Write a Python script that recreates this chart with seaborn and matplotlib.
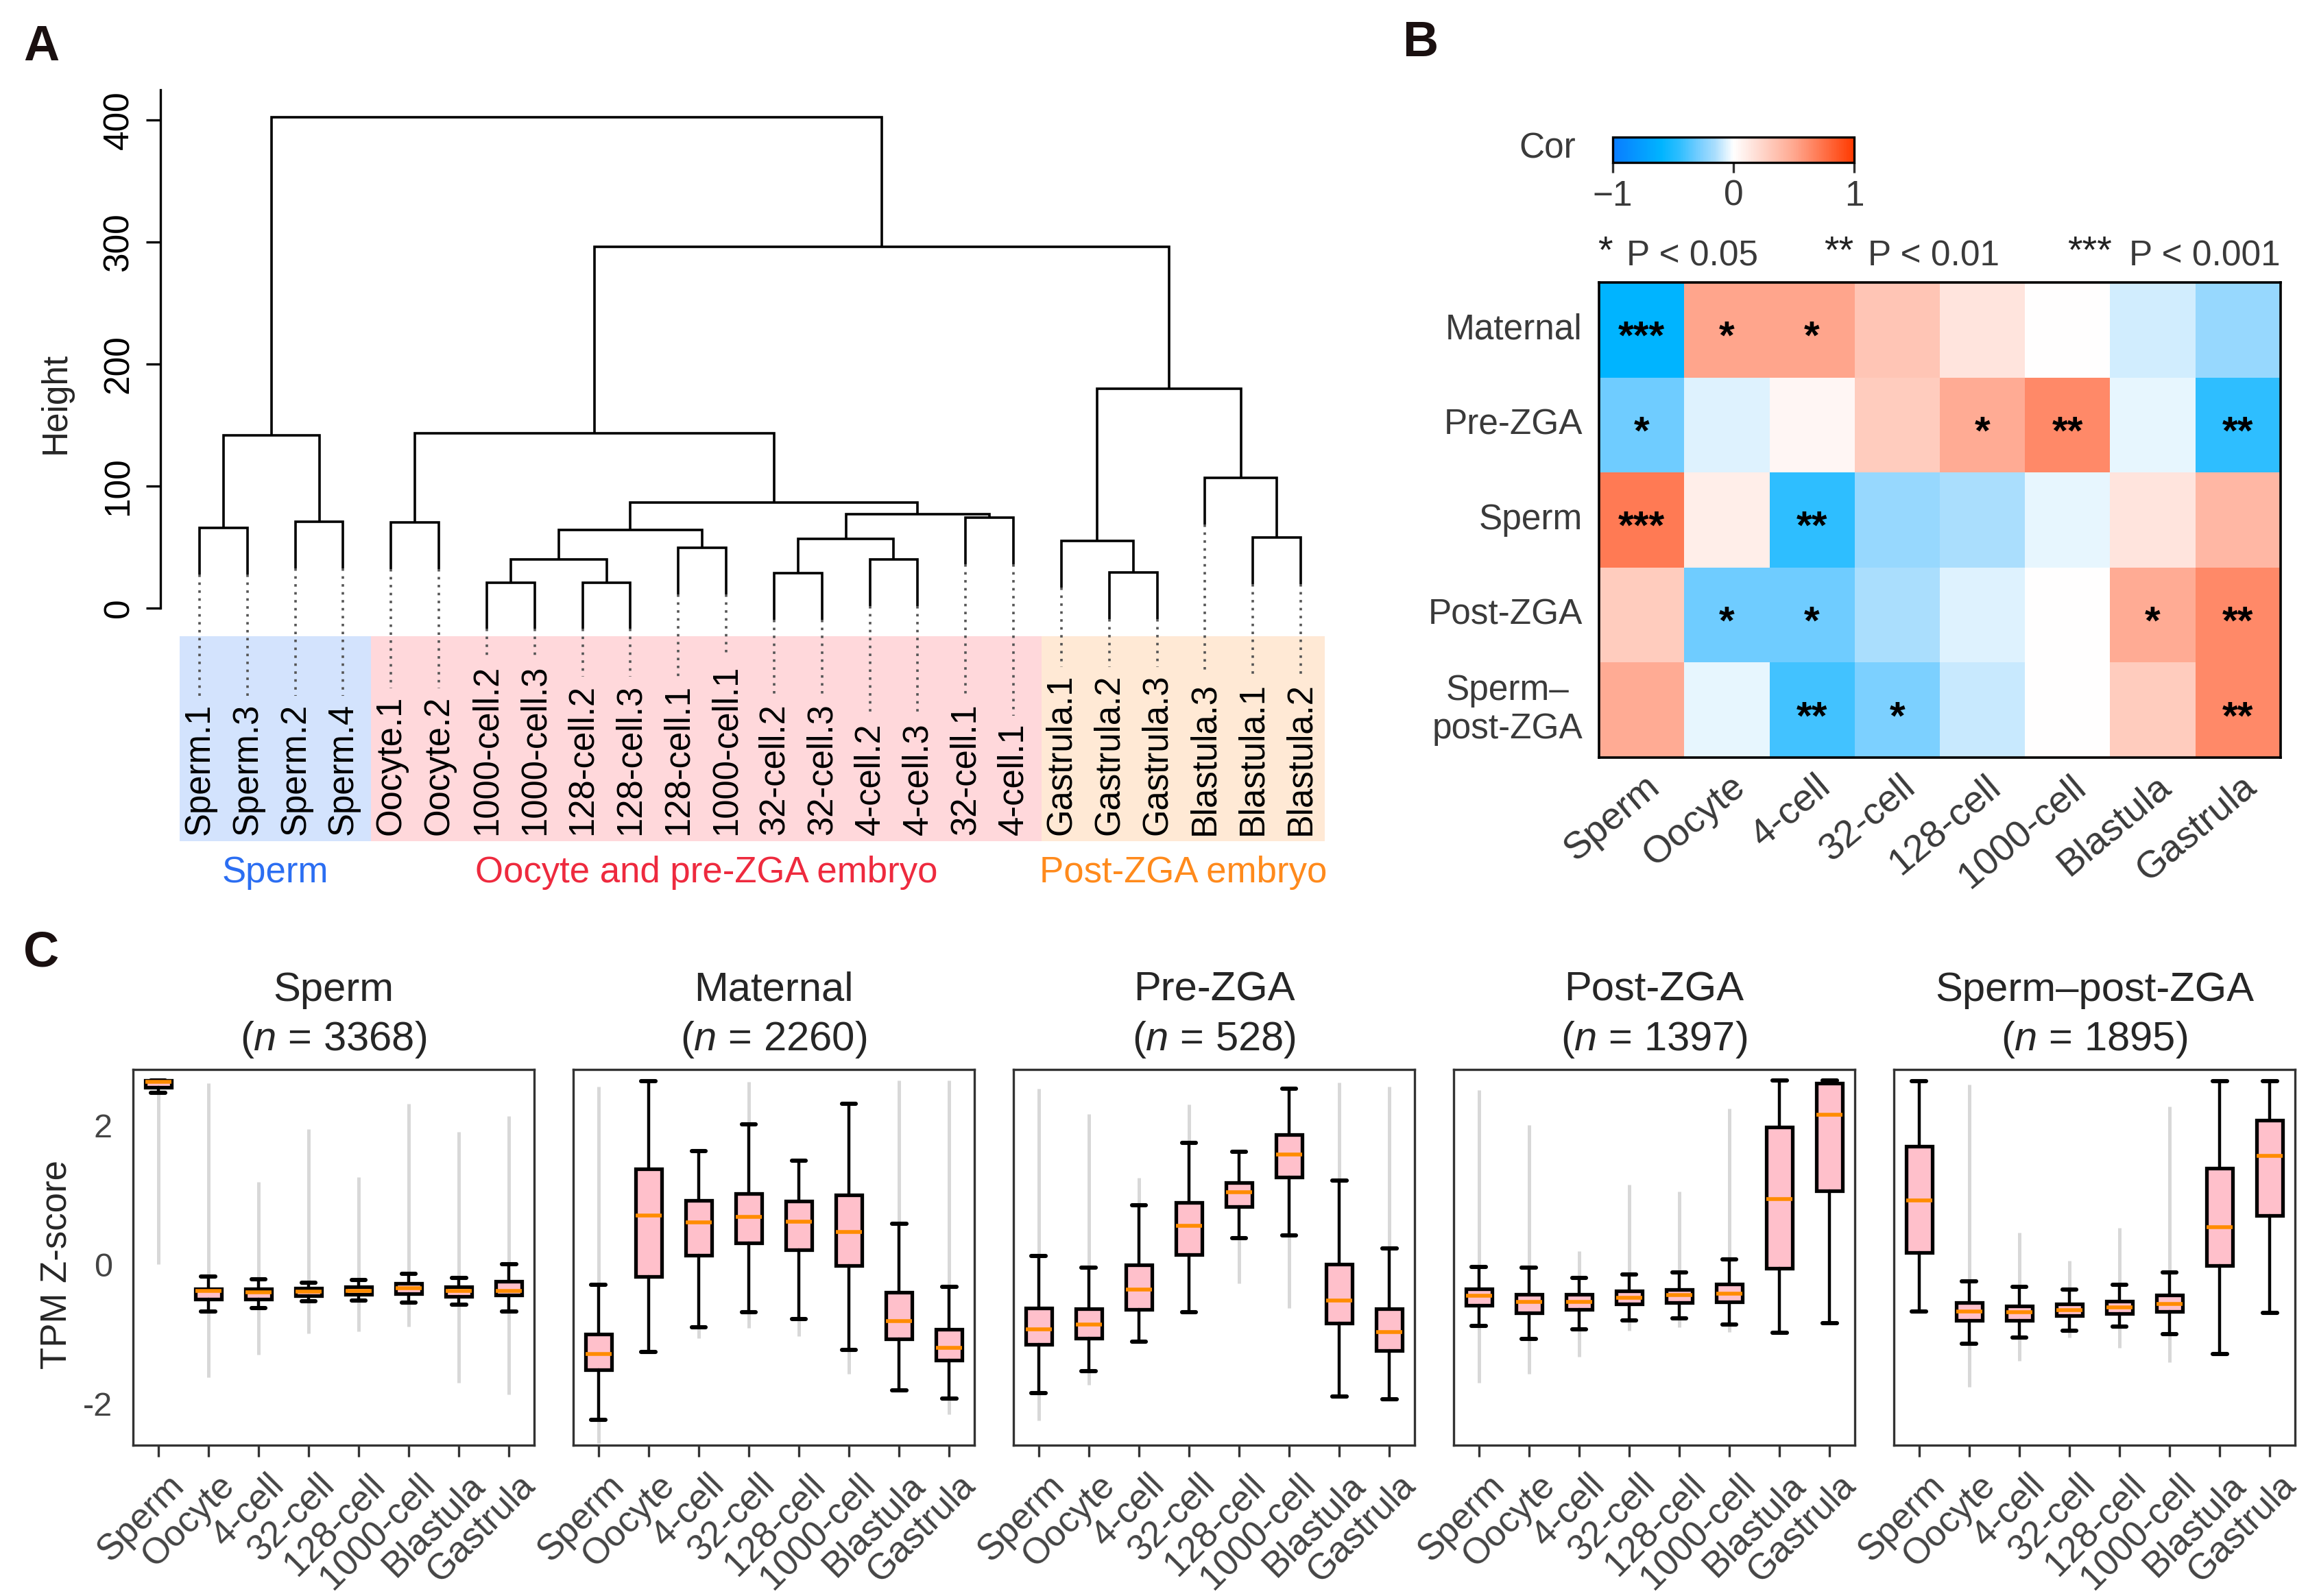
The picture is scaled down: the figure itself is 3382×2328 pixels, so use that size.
import numpy as np
import pandas as pd
import matplotlib
matplotlib.use("Agg")
import matplotlib.pyplot as plt
import seaborn as sns
from matplotlib.colors import LinearSegmentedColormap
from matplotlib.patches import Rectangle
from matplotlib.transforms import ScaledTranslation, blended_transform_factory

nan = np.nan

# ---------------- Panel A data (hierarchical clustering) ----------------
leaf_labels = ['Sperm.1', 'Sperm.3', 'Sperm.2', 'Sperm.4', 'Oocyte.1', 'Oocyte.2',
               '1000-cell.2', '1000-cell.3', '128-cell.2', '128-cell.3', '128-cell.1',
               '1000-cell.1', '32-cell.2', '32-cell.3', '4-cell.2', '4-cell.3',
               '32-cell.1', '4-cell.1', 'Gastrula.1', 'Gastrula.2', 'Gastrula.3',
               'Blastula.3', 'Blastula.1', 'Blastula.2']
merge_left = ['Sperm.1', 'Sperm.2', 'm1', 'Oocyte.1', '1000-cell.2', '128-cell.2', 'm5',
              '128-cell.1', 'm7', '32-cell.2', '4-cell.2', 'm10', '32-cell.1', 'm12',
              'm9', 'm4', 'Gastrula.2', 'Gastrula.1', 'Blastula.1', 'Blastula.3',
              'm18', 'm16', 'm3']
merge_right = ['Sperm.3', 'Sperm.4', 'm2', 'Oocyte.2', '1000-cell.3', '128-cell.3', 'm6',
               '1000-cell.1', 'm8', '32-cell.3', '4-cell.3', 'm11', '4-cell.1', 'm13',
               'm14', 'm15', 'Gastrula.3', 'm17', 'Blastula.2', 'm19',
               'm20', 'm21', 'm22']
merge_height = [65.6, 70.8, 141.7, 70.4, 21.0, 21.0, 40.0, 49.6, 64.2, 28.8, 40.0, 56.7,
                74.0, 77.0, 86.4, 143.0, 29.3, 54.8, 58.0, 106.7, 180.0, 296.0, 402.0]
group_names = ['Sperm', 'Oocyte and pre-ZGA embryo', 'Post-ZGA embryo']
group_sizes = [4, 14, 6]
group_fill = ['#D3E3FD', '#FFD8DB', '#FFE9D5']
group_text = ['#2B6EF2', '#EE2A3E', '#FF8A1C']
height_ticks = [0, 100, 200, 300, 400]

# ---------------- Panel B data (correlation heatmap) ----------------
b_rows = ['Maternal', 'Pre-ZGA', 'Sperm', 'Post-ZGA', 'Sperm\u2013\npost-ZGA']
b_cols = ['Sperm', 'Oocyte', '4-cell', '32-cell', '128-cell', '1000-cell', 'Blastula', 'Gastrula']
cor_maternal = [-0.60, 0.51, 0.51, 0.33, 0.15, 0.00, -0.08, -0.20]
cor_prezga = [-0.30, -0.06, 0.05, 0.29, 0.48, 0.64, -0.04, -0.45]
cor_sperm = [0.71, 0.10, -0.45, -0.20, -0.15, -0.04, 0.15, 0.41]
cor_postzga = [0.29, -0.30, -0.30, -0.15, -0.06, 0.00, 0.48, 0.64]
cor_spermpost = [0.48, -0.04, -0.40, -0.27, -0.10, 0.00, 0.29, 0.64]
sig_maternal = ['***', '*', '*', '', '', '', '', '']
sig_prezga = ['*', '', '', '', '*', '**', '', '**']
sig_sperm = ['***', '', '**', '', '', '', '', '']
sig_postzga = ['', '*', '*', '', '', '', '*', '**']
sig_spermpost = ['', '', '**', '*', '', '', '', '**']

# ---------------- Panel C data (box plot statistics) ----------------
stages = ['Sperm', 'Oocyte', '4-cell', '32-cell', '128-cell', '1000-cell', 'Blastula', 'Gastrula']
c_titles = ['Sperm', 'Maternal', 'Pre-ZGA', 'Post-ZGA', 'Sperm\u2013post-ZGA']
c_counts = [3368, 2260, 528, 1397, 1895]

sperm_med = [2.62, -0.385, -0.40, -0.395, -0.38, -0.345, -0.38, -0.38]
sperm_q1 = [2.54, -0.505, -0.50, -0.45, -0.43, -0.418, -0.46, -0.443]
sperm_q3 = [2.645, -0.35, -0.355, -0.343, -0.325, -0.275, -0.325, -0.244]
sperm_wlo = [2.465, -0.678, -0.634, -0.53, -0.517, -0.548, -0.58, -0.68]
sperm_whi = [2.646, -0.175, -0.22, -0.263, -0.225, -0.133, -0.195, 0.0]
sperm_olo = [0.0, -1.62, -1.30, -0.99, -0.96, -0.895, -1.70, -1.87]
sperm_ohi = [nan, 2.60, 1.18, 1.94, 1.25, 2.31, 1.90, 2.13]

maternal_med = [-1.286, 0.704, 0.599, 0.68, 0.617, 0.468, -0.82, -1.199]
maternal_q1 = [-1.515, -0.18, 0.134, 0.307, 0.208, -0.015, -1.069, -1.379]
maternal_q3 = [-1.007, 1.368, 0.915, 1.014, 0.908, 0.995, -0.40, -0.938]
maternal_wlo = [-2.235, -1.255, -0.901, -0.691, -0.79, -1.23, -1.813, -1.931]
maternal_whi = [-0.29, 2.633, 1.628, 2.012, 1.492, 2.31, 0.58, -0.325]
maternal_olo = [-2.57, nan, -1.063, -0.914, -1.038, -1.578, nan, -2.154]
maternal_ohi = [2.557, nan, nan, 2.62, nan, nan, 2.64, 2.64]

prezga_med = [-0.932, -0.865, -0.368, 0.55, 1.033, 1.58, -0.52, -0.97]
prezga_q1 = [-1.149, -1.062, -0.653, 0.14, 0.828, 1.25, -0.846, -1.236]
prezga_q3 = [-0.628, -0.641, -0.009, 0.89, 1.176, 1.864, 0.0, -0.64]
prezga_wlo = [-1.85, -1.535, -1.112, -0.69, 0.376, 0.413, -1.90, -1.94]
prezga_whi = [0.115, -0.046, 0.853, 1.75, 1.622, 2.52, 1.207, 0.233]
prezga_olo = [-2.247, -1.733, nan, nan, -0.275, -0.628, nan, nan]
prezga_ohi = [2.52, 2.16, 1.244, 2.30, nan, nan, 2.61, 2.55]

postzga_med = [-0.455, -0.54, -0.54, -0.48, -0.442, -0.418, 0.94, 2.15]
postzga_q1 = [-0.586, -0.697, -0.653, -0.573, -0.548, -0.536, -0.058, 1.057]
postzga_q3 = [-0.35, -0.43, -0.43, -0.38, -0.362, -0.281, 1.97, 2.607]
postzga_wlo = [-0.89, -1.07, -0.932, -0.808, -0.777, -0.864, -0.982, -0.846]
postzga_whi = [-0.034, -0.052, -0.195, -0.151, -0.12, 0.066, 2.64, 2.64]
postzga_olo = [-1.70, -1.578, -1.33, -0.957, -0.907, -0.97, nan, nan]
postzga_ohi = [2.50, 2.00, 0.19, 1.14, 1.045, 2.236, nan, nan]

spermpost_med = [0.922, -0.678, -0.69, -0.66, -0.622, -0.572, 0.531, 1.56]
spermpost_q1 = [0.171, -0.808, -0.802, -0.74, -0.709, -0.678, -0.014, 0.705]
spermpost_q3 = [1.70, -0.554, -0.597, -0.573, -0.53, -0.442, 1.38, 2.069]
spermpost_wlo = [-0.678, -1.137, -1.056, -0.95, -0.90, -1.0, -1.286, -0.696]
spermpost_whi = [2.633, -0.244, -0.325, -0.362, -0.293, -0.12, 2.633, 2.633]
spermpost_olo = [nan, -1.764, -1.39, -1.05, -1.205, -1.41, nan, nan]
spermpost_ohi = [nan, 2.58, 0.45, 0.053, 0.525, 2.267, nan, nan]

c_panels = [
    (sperm_med, sperm_q1, sperm_q3, sperm_wlo, sperm_whi, sperm_olo, sperm_ohi),
    (maternal_med, maternal_q1, maternal_q3, maternal_wlo, maternal_whi, maternal_olo, maternal_ohi),
    (prezga_med, prezga_q1, prezga_q3, prezga_wlo, prezga_whi, prezga_olo, prezga_ohi),
    (postzga_med, postzga_q1, postzga_q3, postzga_wlo, postzga_whi, postzga_olo, postzga_ohi),
    (spermpost_med, spermpost_q1, spermpost_q3, spermpost_wlo, spermpost_whi, spermpost_olo, spermpost_ohi),
]

# ---------------- Style ----------------
sns.set_theme(style="white")
plt.rcParams["font.family"] = ["Liberation Sans", "DejaVu Sans"]
plt.rcParams["mathtext.fontset"] = "custom"
plt.rcParams["mathtext.rm"] = "Liberation Sans"
plt.rcParams["mathtext.it"] = "Liberation Sans:italic"
plt.rcParams["axes.unicode_minus"] = True

W, H, DPI = 3382, 2328, 200
PT = 72.0 / DPI
fig = plt.figure(figsize=(W / DPI, H / DPI), dpi=DPI)
fig.patch.set_facecolor("white")


def rect(x0, y0, x1, y1):
    return [x0 / W, 1 - y1 / H, (x1 - x0) / W, (y1 - y0) / H]


def fxy(px, py):
    return px / W, 1 - py / H


DARK = '#3a3a3a'

# ---------------- Panel A ----------------
axA = fig.add_axes(rect(234, 130, 1940, 1300))
PXH, Y0 = 1.78, 887.0
LEAF0, LEAFD = 291.0, (1897.0 - 291.0) / 23.0
axA.set_ylim((Y0 - 1300) / PXH, (Y0 - 130) / PXH)
axA.set_xlim((234 - LEAF0) / LEAFD, (1940 - LEAF0) / LEAFD)
axA.patch.set_alpha(0)
for s in ['top', 'right', 'bottom']:
    axA.spines[s].set_visible(False)
axA.spines['left'].set_bounds(0, 425)
axA.spines['left'].set_color('black')
axA.spines['left'].set_linewidth(1.2)
axA.set_xticks([])
axA.set_yticks(height_ticks)
axA.set_yticklabels([str(t) for t in height_ticks])
axA.tick_params(axis='y', left=True, length=21 * PT, width=1.2, pad=15 * PT,
                labelsize=18.5, colors='black')
for lab in axA.get_yticklabels():
    lab.set_rotation(90)
    lab.set_va('center')
axA.grid(False)
axA.text(-0.0897, 168, 'Height', rotation=90, ha='center', va='center', fontsize=18.5,
         transform=blended_transform_factory(axA.transAxes, axA.transData))

hang = 0.1 * (max(merge_height) - min(merge_height))
pos = {name: float(i) for i, name in enumerate(leaf_labels)}
top = {}
leaf_end = {}
for k, (a, b, h) in enumerate(zip(merge_left, merge_right, merge_height), start=1):
    for c in (a, b):
        if c in leaf_labels:
            top[c] = h - hang
            leaf_end[c] = h - hang
    xa, xb = pos[a], pos[b]
    axA.plot([xa, xa, xb, xb], [top[a], h, h, top[b]], color='black', lw=1.3,
             solid_joinstyle='miter', solid_capstyle='butt')
    pos['m%d' % k] = (xa + xb) / 2.0
    top['m%d' % k] = h

# label bands
band_top = (Y0 - 928) / PXH
band_bot = (Y0 - 1227) / PXH
edges = np.concatenate([[0], np.cumsum(group_sizes)]) - 0.42
edges[-1] = len(leaf_labels) - 0.5
for g in range(len(group_names)):
    axA.add_patch(Rectangle((edges[g], band_bot), edges[g + 1] - edges[g], band_top - band_bot,
                            facecolor=group_fill[g], edgecolor='none', zorder=0))
    axA.text((edges[g] + edges[g + 1]) / 2, (Y0 - 1273) / PXH, group_names[g],
             color=group_text[g], ha='center', va='center', fontsize=19)

label_base = (Y0 - 1218) / PXH
leaf_texts = []
for i, name in enumerate(leaf_labels):
    t = axA.text(i, label_base, name, rotation=90, ha='center', va='bottom',
                 fontsize=18.3, color='black')
    leaf_texts.append(t)

# ---------------- Panel B ----------------
cmap = LinearSegmentedColormap.from_list('cor', [
    (0.0, '#0A7CFF'), (0.2, '#00B4FF'), (0.275, '#2EBEFF'), (0.35, '#70CCFF'),
    (0.425, '#ABDEFD'), (0.5, '#FFFFFF'), (0.75, '#FFA890'), (1.0, '#FF3A00')])
cor_df = pd.DataFrame([cor_maternal, cor_prezga, cor_sperm, cor_postzga, cor_spermpost],
                      index=b_rows, columns=b_cols)
sig = np.array([sig_maternal, sig_prezga, sig_sperm, sig_postzga, sig_spermpost])

axB = fig.add_axes(rect(2332, 412, 3326, 1105))
cax = fig.add_axes(rect(2352, 200, 2704, 237))
sns.heatmap(cor_df, ax=axB, cbar_ax=cax, cmap=cmap, vmin=-1, vmax=1,
            annot=sig, fmt='', annot_kws=dict(fontsize=21, color='black', fontweight='bold'),
            cbar_kws=dict(orientation='horizontal', ticks=[-1, 0, 1]))
for t in axB.texts:
    x, y = t.get_position()
    t.set_position((x, y + 0.09))
for s in axB.spines.values():
    s.set_visible(True)
    s.set_color('black')
    s.set_linewidth(1.3)
axB.set_yticks(np.arange(len(b_rows)) + 0.5)
axB.set_yticklabels(b_rows, rotation=0, fontsize=18.5, color=DARK, ha='right',
                    multialignment='center')
axB.tick_params(axis='y', left=False, length=0, pad=24 * PT)
axB.set_xticks(np.arange(len(b_cols)) + 0.5)
axB.set_xticklabels(b_cols, rotation=40, ha='right', va='center', rotation_mode='anchor',
                    fontsize=20, color=DARK)
axB.tick_params(axis='x', bottom=False, length=0, pad=36 * PT)
for lab in axB.get_xticklabels():
    lab.set_transform(lab.get_transform() + ScaledTranslation(20 / DPI, 0, fig.dpi_scale_trans))
axB.set_xlabel('')
axB.set_ylabel('')

cb = axB.collections[0].colorbar
cb.outline.set_edgecolor('black')
cb.outline.set_linewidth(1.2)
cb.set_ticks([-1, 0, 1])
cb.set_ticklabels(['\u22121', '0', '1'])
cax.tick_params(axis='x', bottom=True, length=15 * PT, width=1.2, color='#333333',
                labelsize=18.5, labelcolor=DARK, pad=10 * PT)

fig.text(*fxy(2257, 217), 'Cor', ha='center', va='center', fontsize=18.5, color=DARK)
leg_items = [('*', 2330, 'P < 0.05', 2372), ('**', 2660, 'P < 0.01', 2724),
             ('***', 3015, 'P < 0.001', 3105)]
for star, sx, txt, tx in leg_items:
    fig.text(*fxy(sx, 368), star, ha='left', va='center', fontsize=20, color='#222222')
    fig.text(*fxy(tx, 374), txt, ha='left', va='center', fontsize=18.5, color=DARK)

# ---------------- Panel C ----------------
positions = np.arange(1, len(stages) + 1)
for p, (med, q1, q3, wlo, whi, olo, ohi) in enumerate(c_panels):
    x0 = 194 + 642 * p
    ax = fig.add_axes(rect(x0, 1560, x0 + 585, 2108))
    ax.set_facecolor('white')
    for i in range(len(stages)):
        if not np.isnan(ohi[i]):
            ax.vlines(positions[i], whi[i], ohi[i], colors='#D8D8D8', lw=1.8, zorder=1)
        if not np.isnan(olo[i]):
            ax.vlines(positions[i], olo[i], wlo[i], colors='#D8D8D8', lw=1.8, zorder=1)
    stats = [dict(med=med[i], q1=q1[i], q3=q3[i], whislo=wlo[i], whishi=whi[i], fliers=[])
             for i in range(len(stages))]
    ax.bxp(stats, positions=positions, widths=0.52, capwidths=0.28, patch_artist=True,
           showfliers=False, manage_ticks=False,
           boxprops=dict(facecolor='#FFC0CB', edgecolor='black', linewidth=1.9),
           medianprops=dict(color='#FF8C00', linewidth=2.0, solid_capstyle='butt'),
           whiskerprops=dict(color='black', linewidth=1.6),
           capprops=dict(color='black', linewidth=2.2))
    ax.set_xlim(0.5, len(stages) + 0.5)
    ax.set_ylim(-2.6, 2.8)
    for s in ax.spines.values():
        s.set_visible(True)
        s.set_color('#333333')
        s.set_linewidth(1.2)
    ax.grid(False)
    ax.set_xticks(positions)
    ax.set_xticklabels(stages, rotation=45, ha='right', va='center', rotation_mode='anchor',
                       fontsize=19, color='#444444')
    ax.tick_params(axis='x', bottom=True, length=17 * PT, width=1.2, color='#333333',
                   pad=34 * PT)
    for lab in ax.get_xticklabels():
        lab.set_transform(lab.get_transform() + ScaledTranslation(30 / DPI, 0, fig.dpi_scale_trans))
    if p == 0:
        ax.set_yticks([-2, 0, 2])
        ax.set_yticklabels(['-2', '0', '2'], fontsize=17.5, color='#444444')
        ax.tick_params(axis='y', left=False, length=0, pad=30 * PT)
        ax.text(-0.191, 0.481, 'TPM Z-score', rotation=90, ha='center', va='center',
                fontsize=19, transform=ax.transAxes)
    else:
        ax.set_yticks([])
    ax.text(0.5, 1 + (1560 - 1444) / 548.0, c_titles[p], ha='center', va='center',
            fontsize=21.5, transform=ax.transAxes)
    ax.text(0.5, 1 + (1560 - 1516) / 548.0, r'($\it{n}$ = %d)' % c_counts[p], ha='center',
            va='center', fontsize=21.5, transform=ax.transAxes)

# panel letters
for letter, (px, py) in zip('ABC', [(60, 69), (2071, 63), (60, 1391)]):
    fig.text(*fxy(px, py), letter, ha='center', va='center', fontsize=26, fontweight='bold',
             color='#1a1010')

# dotted connectors in panel A from leaf ends to label tops
fig.canvas.draw()
renderer = fig.canvas.get_renderer()
inv = axA.transData.inverted()
for i, (name, t) in enumerate(zip(leaf_labels, leaf_texts)):
    bb = t.get_window_extent(renderer)
    ytop = inv.transform((0, bb.y1))[1]
    axA.plot([i, i], [leaf_end[name], ytop + 6], color='#555555', lw=1.3,
             linestyle=(0, (1, 2.2)), zorder=1)

fig.savefig('out.png', dpi=DPI, facecolor='white')
